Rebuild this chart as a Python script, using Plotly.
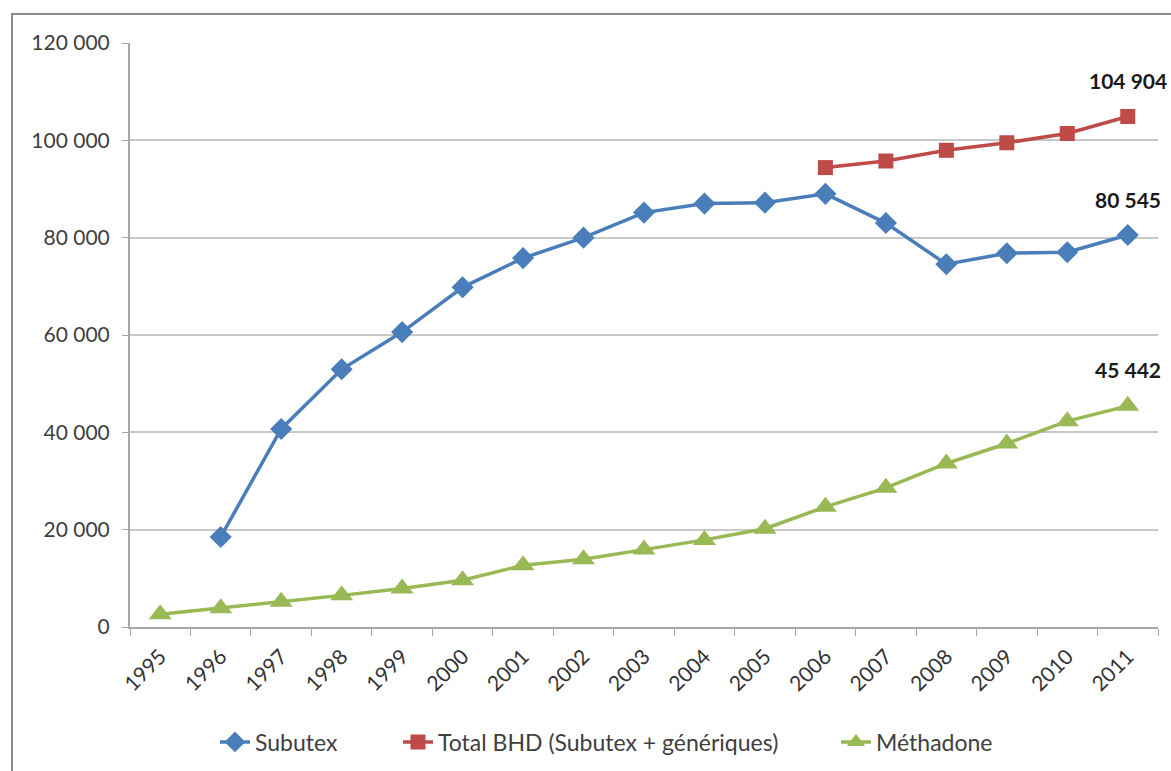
import plotly.graph_objects as go

years = [str(y) for y in range(1995, 2012)]
subutex = [None, 18500, 40700, 52950, 60600, 69800, 75800, 80000, 85150, 87000,
           87200, 89000, 83000, 74550, 76800, 77000, 80545]
total_bhd = [None]*11 + [94400, 95750, 97950, 99500, 101400, 104904]
methadone = [2600, 3850, 5200, 6500, 7900, 9600, 12700, 13900, 15900, 17900,
             20200, 24700, 28600, 33600, 37700, 42300, 45442]
ytick_vals = [0, 20000, 40000, 60000, 80000, 100000, 120000]
ytick_text = ["0", "20 000", "40 000", "60 000", "80 000", "100 000", "120 000"]
end_labels = ["104 904", "80 545", "45 442"]

FONT = "Lato"
blue = "#4A7EBB"
red = "#BE4B48"
green = "#98B954"

PL, PR, PT, PB = 130, 1158, 43, 627
W, H = 1171, 771
def px_x(p):
    return (p - PL) / (PR - PL)
def px_y(p):
    return (PB - p) / (PB - PT)

fig = go.Figure()
fig.add_trace(go.Scatter(x=years, y=subutex, name="Subutex", mode="lines+markers",
                         line=dict(color=blue, width=3.5),
                         marker=dict(symbol="diamond", size=17, color=blue),
                         legend="legend"))
fig.add_trace(go.Scatter(x=years, y=total_bhd, name="Total BHD (Subutex + génériques)",
                         mode="lines+markers", line=dict(color=red, width=3.5),
                         marker=dict(symbol="square", size=15, color=red),
                         legend="legend2"))
fig.add_trace(go.Scatter(x=years, y=methadone, name="Méthadone", mode="lines+markers",
                         line=dict(color=green, width=3.5),
                         marker=dict(symbol="triangle-up", size=20, color=green),
                         legend="legend3"))

last_idx = len(years) - 1
for val, txt in zip([total_bhd[-1], subutex[-1], methadone[-1]], end_labels):
    fig.add_annotation(x=last_idx, y=val, text="<b>" + txt + "</b>", showarrow=False,
                       yshift=36, font=dict(family=FONT, size=21, color="#1a1a1a"))

# outer chart border
fig.add_shape(type="rect", xref="paper", yref="paper",
              x0=px_x(12), x1=px_x(1180), y0=px_y(780), y1=px_y(14),
              line=dict(color="#8c8c8c", width=2), layer="below")

leg_font = dict(family=FONT, size=23, color="#404040")
leg_common = dict(orientation="h", yanchor="middle", y=px_y(742), xanchor="left",
                  font=leg_font, bgcolor="rgba(0,0,0,0)", borderwidth=0)

fig.update_layout(
    width=W, height=H,
    margin=dict(l=PL, r=W - PR, t=PT, b=H - PB, autoexpand=False),
    paper_bgcolor="white", plot_bgcolor="white",
    font=dict(family=FONT, size=21, color="#404040"),
    showlegend=True,
    legend=dict(x=px_x(215), **leg_common),
    legend2=dict(x=px_x(398), **leg_common),
    legend3=dict(x=px_x(836), **leg_common),
)
fig.update_xaxes(type="category", range=[-0.5, last_idx + 0.5],
                 tickson="boundaries", ticks="outside", ticklen=7,
                 tickcolor="#a6a6a6", showline=True, linecolor="#a6a6a6", linewidth=2,
                 showgrid=False, tickangle=-45, ticklabelstandoff=7, automargin=False,
                 tickfont=dict(family=FONT, size=21, color="#333333"))
fig.update_yaxes(range=[0, 120000], tickvals=ytick_vals, ticktext=ytick_text,
                 ticks="outside", ticklen=6, tickcolor="#a6a6a6",
                 showline=True, linecolor="#a6a6a6", linewidth=2, automargin=False,
                 showgrid=True, gridcolor="#c8c8c8", gridwidth=2, zeroline=False,
                 ticklabelstandoff=8, tickfont=dict(family=FONT, size=21, color="#404040"))

fig.write_html("out.html")
